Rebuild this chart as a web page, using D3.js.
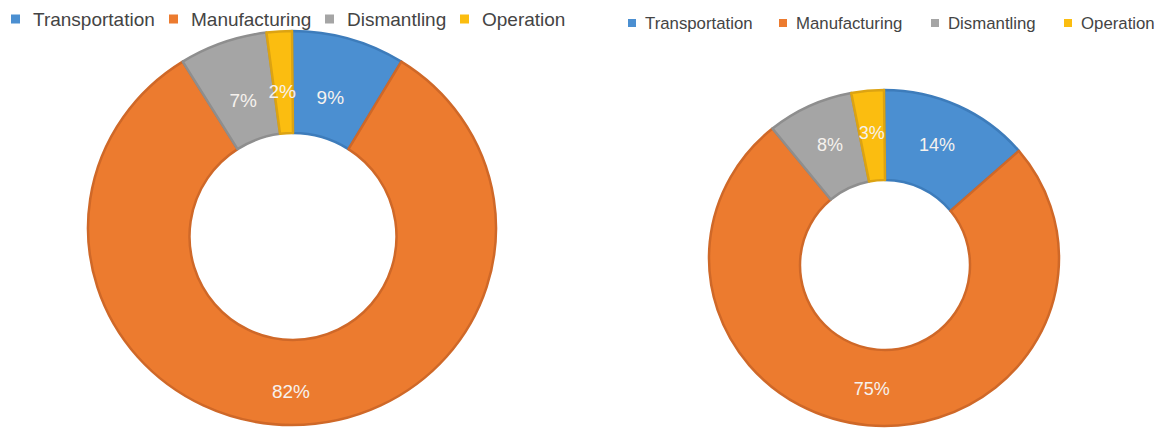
<!DOCTYPE html>
<html>
<head>
<meta charset="utf-8">
<script src="https://cdn.jsdelivr.net/npm/d3@7/dist/d3.min.js"></script>
<style>
  html, body { margin: 0; padding: 0; background: #ffffff; }
  svg { display: block; }
  text { font-family: "Liberation Sans", Arial, Helvetica, sans-serif; }
</style>
</head>
<body>
<svg id="chart" width="1162" height="436"></svg>
<script>
// Emission shares by life-cycle phase, two scenarios
const categories = ["Transportation", "Manufacturing", "Dismantling", "Operation"];
const valuesA = [9, 82, 7, 2];
const valuesB = [14, 75, 8, 3];
const labelsA = ["9%", "82%", "7%", "2%"];
const labelsB = ["14%", "75%", "8%", "3%"];

const fills = ["#4b8fd1", "#ec7b2f", "#a5a5a5", "#fbbd10"];
const strokes = ["#3d7cbb", "#cf6828", "#8e8e8e", "#dca312"];

const svg = d3.select("#chart");
const color = d3.scaleOrdinal().domain(categories).range(fills);
const edge = d3.scaleOrdinal().domain(categories).range(strokes);

// point on an ellipse, angle measured clockwise from 12 o'clock
const onEllipse = (e, a) => [e.cx + e.rx * Math.sin(a), e.cy - e.ry * Math.cos(a)];

// ring segment between an outer ellipse and an inner ellipse
function ringPath(d, outer, inner) {
  const large = (d.endAngle - d.startAngle) > Math.PI ? 1 : 0;
  const [x0, y0] = onEllipse(outer, d.startAngle);
  const [x1, y1] = onEllipse(outer, d.endAngle);
  const [x2, y2] = onEllipse(inner, d.endAngle);
  const [x3, y3] = onEllipse(inner, d.startAngle);
  return `M${x0},${y0}A${outer.rx},${outer.ry} 0 ${large} 1 ${x1},${y1}` +
         `L${x2},${y2}A${inner.rx},${inner.ry} 0 ${large} 0 ${x3},${y3}Z`;
}

function donut(cfg) {
  const data = categories.map((c, i) => ({ cat: c, value: cfg.values[i], label: cfg.labels[i] }));
  const pie = d3.pie().value(d => d.value).sort(null);
  const arcs = pie(data);

  const g = svg.append("g");

  g.selectAll("path.slice")
    .data(arcs)
    .join("path")
    .attr("class", "slice")
    .attr("d", d => ringPath(d, cfg.outer, cfg.inner))
    .attr("fill", d => color(d.data.cat))
    .attr("stroke", d => edge(d.data.cat))
    .attr("stroke-width", 2.5)
    .attr("stroke-linejoin", "round");

  g.selectAll("text.pct")
    .data(arcs)
    .join("text")
    .attr("class", "pct")
    .attr("transform", d => {
      const [x, y] = onEllipse(cfg.labelRing, (d.startAngle + d.endAngle) / 2);
      return `translate(${x},${y})`;
    })
    .attr("text-anchor", "middle")
    .attr("dy", "0.35em")
    .attr("fill", "#f6f2ee")
    .attr("font-size", cfg.labelSize)
    .text(d => d.data.label);

  // legend row
  const lg = svg.append("g").attr("transform", `translate(0,${cfg.legendY})`);
  const items = lg.selectAll("g.item")
    .data(categories)
    .join("g")
    .attr("class", "item")
    .attr("transform", (d, i) => `translate(${cfg.legendX[i]},0)`);
  items.append("rect")
    .attr("x", 0).attr("y", -cfg.box / 2)
    .attr("width", cfg.box).attr("height", cfg.box)
    .attr("fill", d => color(d));
  items.append("text")
    .attr("x", cfg.gap)
    .attr("dy", "0.35em")
    .attr("fill", "#444444")
    .attr("font-size", cfg.legendSize)
    .text(d => d);
}

donut({
  values: valuesA, labels: labelsA,
  outer: { cx: 292, cy: 228, rx: 204, ry: 197 },
  inner: { cx: 293, cy: 236.5, rx: 103.5, ry: 103.5 },
  labelRing: { cx: 291, cy: 241.5, rx: 141, ry: 150 },
  labelSize: 19,
  legendY: 19, legendX: [11, 169, 325, 460], box: 9, gap: 22, legendSize: 19
});

donut({
  values: valuesB, labels: labelsB,
  outer: { cx: 884, cy: 258, rx: 175, ry: 168 },
  inner: { cx: 885, cy: 265, rx: 85, ry: 85 },
  labelRing: { cx: 883.5, cy: 261, rx: 125.6, ry: 128.5 },
  labelSize: 18,
  legendY: 23, legendX: [628, 779, 931, 1064], box: 8, gap: 17, legendSize: 16.8
});
</script>
</body>
</html>
